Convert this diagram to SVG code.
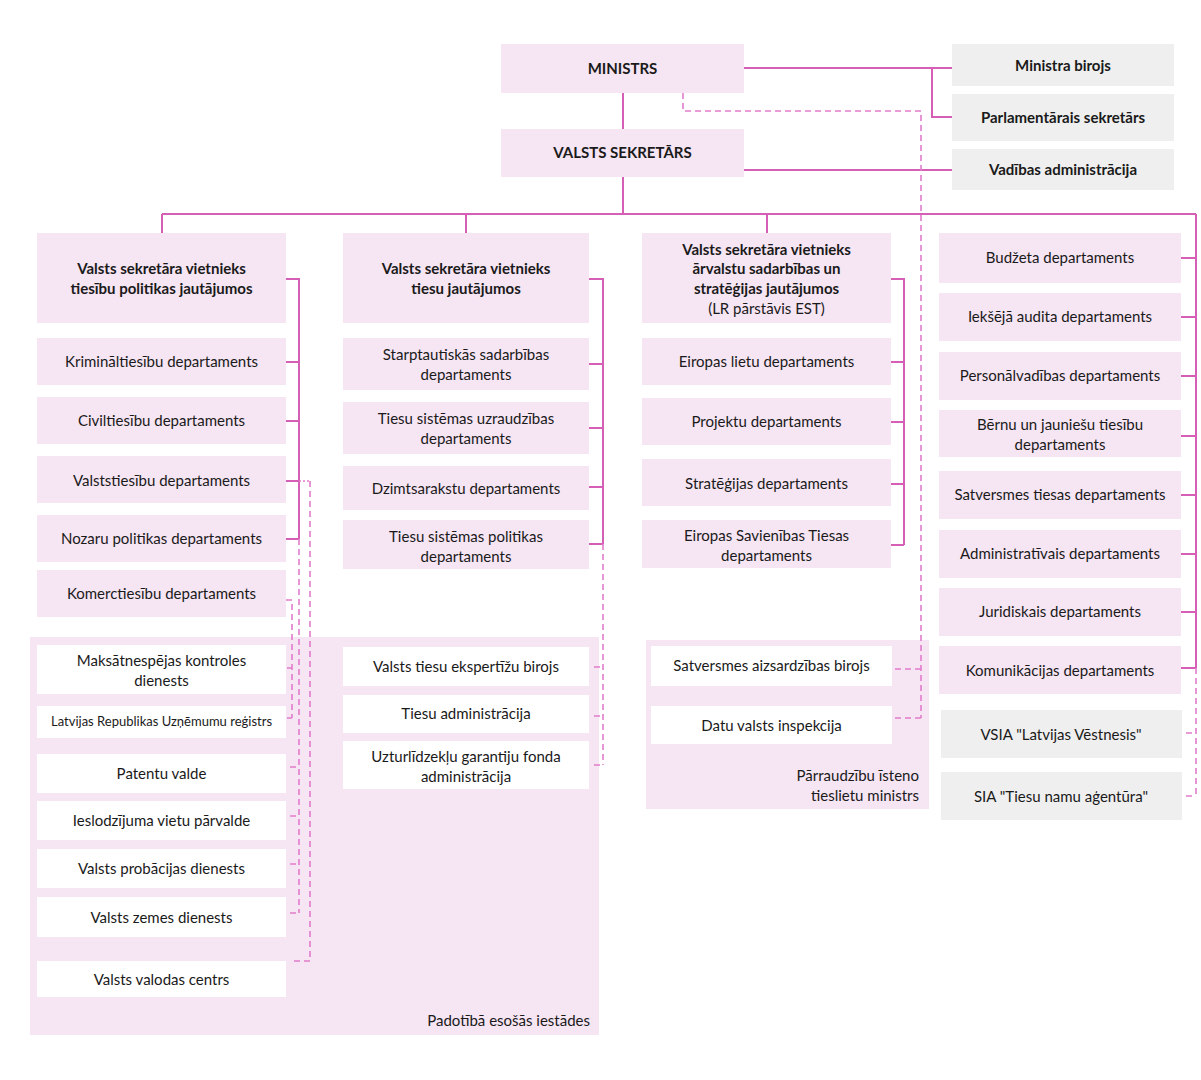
<svg xmlns="http://www.w3.org/2000/svg" width="1201" height="1080" viewBox="0 0 1201 1080">
<style>
.p{fill:#f6e5f3}
.w{fill:#ffffff}
.g{fill:#efefef}
.pan{fill:#f6e5f3}
text{font-family:Lato,"Liberation Sans",sans-serif;font-size:15px;fill:#1a1a1a;text-anchor:middle}
.b{font-weight:bold}
.s{font-size:13px}
.r{text-anchor:end}
.ln{stroke:#d45fb5;stroke-width:2;fill:none}
.ds{stroke:#e27ccb;stroke-width:1.6;fill:none;stroke-dasharray:6 4}
.dt{stroke:#e27ccb;stroke-width:1.6;fill:none;stroke-dasharray:2 2}
</style>
<rect width="1201" height="1080" fill="#ffffff"/>
<g id="panels">
<rect class="pan" x="30" y="637" width="569" height="398"/>
<text class="r" x="590" y="1026">Padotībā esošās iestādes</text>
<rect class="pan" x="646" y="640" width="283" height="169"/>
<text class="r" x="919" y="781">Pārraudzību īsteno</text>
<text class="r" x="919" y="801">tieslietu ministrs</text>
</g>
<g id="connectors">
<path class="ln" d="M623 93V129M744 68H952M932 68V117H952M744 170H952M623 177V214M162 214H1196M162 214V233M466 214V233M767 214V233"/>
<path class="ds" d="M683 93V111H921V718M895 669H921M895 718H921"/>
<path class="ln" d="M286 279H299V539M286 362H299M286 421H299M286 481H299M286 539H299"/>
<path class="dt" d="M299 481H310"/>
<path class="ds" d="M310 481V961H290"/>
<path class="ds" d="M299 539V913M290 767H299M290 816H299M290 864H299M290 913H299"/>
<path class="ds" d="M286 600H292V718M287 668H292M287 718H292"/>
<path class="ln" d="M589 279H603V544M589 364H603M589 428H603M589 487H603M589 544H603"/>
<path class="ds" d="M603 544V765M594 667H603M594 716H603M594 765H603"/>
<path class="ln" d="M891 279H904V545M891 362H904M891 422H904M891 484H904M891 545H904"/>
<path class="ln" d="M1196 214V668M1181 258H1196M1181 317H1196M1181 376H1196M1181 436H1196M1181 495H1196M1181 554H1196M1181 612H1196M1181 668H1196"/>
<path class="ds" d="M1196 668V796M1186 733H1196M1186 796H1196"/>
</g>
<g id="ministrs"><rect class="p" x="501" y="44" width="243" height="49"/><text class="b" x="622.5" y="74">MINISTRS</text></g>
<g id="valsts-sekretars"><rect class="p" x="501" y="129" width="243" height="48"/><text class="b" x="622.5" y="158">VALSTS SEKRETĀRS</text></g>
<g id="ministra-birojs"><rect class="g" x="952" y="44" width="222" height="42"/><text class="b" x="1063" y="71">Ministra birojs</text></g>
<g id="parlamentarais"><rect class="g" x="952" y="94" width="222" height="47"/><text class="b" x="1063" y="123">Parlamentārais sekretārs</text></g>
<g id="vadibas"><rect class="g" x="952" y="149" width="222" height="41"/><text class="b" x="1063" y="175">Vadības administrācija</text></g>

<g id="vietn-tiesibu"><rect class="p" x="37" y="233" width="249" height="90"/><text class="b" x="161.5" y="274">Valsts sekretāra vietnieks</text><text class="b" x="161.5" y="294">tiesību politikas jautājumos</text></g>
<g id="kriminal"><rect class="p" x="37" y="338" width="249" height="47"/><text x="161.5" y="367">Krimināltiesību departaments</text></g>
<g id="civil"><rect class="p" x="37" y="397" width="249" height="47"/><text x="161.5" y="426">Civiltiesību departaments</text></g>
<g id="valststiesibu"><rect class="p" x="37" y="456" width="249" height="47"/><text x="161.5" y="486">Valststiesību departaments</text></g>
<g id="nozaru"><rect class="p" x="37" y="515" width="249" height="47"/><text x="161.5" y="544">Nozaru politikas departaments</text></g>
<g id="komerc"><rect class="p" x="37" y="570" width="249" height="47"/><text x="161.5" y="599">Komerctiesību departaments</text></g>

<g id="maksatnespejas"><rect class="w" x="37" y="645" width="249" height="49"/><text x="161.5" y="666">Maksātnespējas kontroles</text><text x="161.5" y="686">dienests</text></g>
<g id="ur"><rect class="w" x="37" y="706" width="249" height="32"/><text class="s" x="161.5" y="726">Latvijas Republikas Uzņēmumu reģistrs</text></g>
<g id="patentu"><rect class="w" x="37" y="754" width="249" height="39"/><text x="161.5" y="779">Patentu valde</text></g>
<g id="ieslodzijuma"><rect class="w" x="37" y="801" width="249" height="39"/><text x="161.5" y="826">Ieslodzījuma vietu pārvalde</text></g>
<g id="probacijas"><rect class="w" x="37" y="849" width="249" height="39"/><text x="161.5" y="874">Valsts probācijas dienests</text></g>
<g id="zemes"><rect class="w" x="37" y="897" width="249" height="40"/><text x="161.5" y="923">Valsts zemes dienests</text></g>
<g id="valodas"><rect class="w" x="37" y="961" width="249" height="36"/><text x="161.5" y="985">Valsts valodas centrs</text></g>

<g id="vietn-tiesu"><rect class="p" x="343" y="233" width="246" height="90"/><text class="b" x="466" y="274">Valsts sekretāra vietnieks</text><text class="b" x="466" y="294">tiesu jautājumos</text></g>
<g id="starptautiskas"><rect class="p" x="343" y="338" width="246" height="52"/><text x="466" y="360">Starptautiskās sadarbības</text><text x="466" y="380">departaments</text></g>
<g id="uzraudzibas"><rect class="p" x="343" y="402" width="246" height="52"/><text x="466" y="424">Tiesu sistēmas uzraudzības</text><text x="466" y="444">departaments</text></g>
<g id="dzimtsarakstu"><rect class="p" x="343" y="466" width="246" height="44"/><text x="466" y="494">Dzimtsarakstu departaments</text></g>
<g id="tiesu-politikas"><rect class="p" x="343" y="520" width="246" height="49"/><text x="466" y="542">Tiesu sistēmas politikas</text><text x="466" y="562">departaments</text></g>

<g id="ekspertizu"><rect class="w" x="343" y="647" width="246" height="39"/><text x="466" y="672">Valsts tiesu ekspertīžu birojs</text></g>
<g id="tiesu-admin"><rect class="w" x="343" y="695" width="246" height="38"/><text x="466" y="719">Tiesu administrācija</text></g>
<g id="uzturlidzeklu"><rect class="w" x="343" y="741" width="246" height="48"/><text x="466" y="762">Uzturlīdzekļu garantiju fonda</text><text x="466" y="782">administrācija</text></g>

<g id="vietn-arvalstu"><rect class="p" x="642" y="233" width="249" height="90"/><text class="b" x="766.5" y="255">Valsts sekretāra vietnieks</text><text class="b" x="766.5" y="274">ārvalstu sadarbības un</text><text class="b" x="766.5" y="294">stratēģijas jautājumos</text><text x="766.5" y="314">(LR pārstāvis EST)</text></g>
<g id="eiropas-lietu"><rect class="p" x="642" y="338" width="249" height="47"/><text x="766.5" y="367">Eiropas lietu departaments</text></g>
<g id="projektu"><rect class="p" x="642" y="398" width="249" height="47"/><text x="766.5" y="427">Projektu departaments</text></g>
<g id="strategijas"><rect class="p" x="642" y="459" width="249" height="47"/><text x="766.5" y="489">Stratēģijas departaments</text></g>
<g id="es-tiesas"><rect class="p" x="642" y="520" width="249" height="48"/><text x="766.5" y="541">Eiropas Savienības Tiesas</text><text x="766.5" y="561">departaments</text></g>

<g id="satversmes-birojs"><rect class="w" x="651" y="646" width="241" height="40"/><text x="771.5" y="671">Satversmes aizsardzības birojs</text></g>
<g id="datu"><rect class="w" x="651" y="706" width="241" height="38"/><text x="771.5" y="731">Datu valsts inspekcija</text></g>

<g id="budzeta"><rect class="p" x="939" y="233" width="242" height="50"/><text x="1060" y="263">Budžeta departaments</text></g>
<g id="audita"><rect class="p" x="939" y="293" width="242" height="48"/><text x="1060" y="322">Iekšējā audita departaments</text></g>
<g id="personal"><rect class="p" x="939" y="352" width="242" height="48"/><text x="1060" y="381">Personālvadības departaments</text></g>
<g id="bernu"><rect class="p" x="939" y="410" width="242" height="47"/><text x="1060" y="430">Bērnu un jauniešu tiesību</text><text x="1060" y="450">departaments</text></g>
<g id="satversmes-tiesas"><rect class="p" x="939" y="471" width="242" height="48"/><text x="1060" y="500">Satversmes tiesas departaments</text></g>
<g id="administrativais"><rect class="p" x="939" y="530" width="242" height="48"/><text x="1060" y="559">Administratīvais departaments</text></g>
<g id="juridiskais"><rect class="p" x="939" y="588" width="242" height="48"/><text x="1060" y="617">Juridiskais departaments</text></g>
<g id="komunikacijas"><rect class="p" x="939" y="646" width="242" height="48"/><text x="1060" y="676">Komunikācijas departaments</text></g>
<g id="vestnesis"><rect class="g" x="941" y="710" width="241" height="48"/><text x="1061" y="740">VSIA "Latvijas Vēstnesis"</text></g>
<g id="tiesu-namu"><rect class="g" x="941" y="772" width="241" height="48"/><text x="1061" y="802">SIA "Tiesu namu aģentūra"</text></g>
</svg>
